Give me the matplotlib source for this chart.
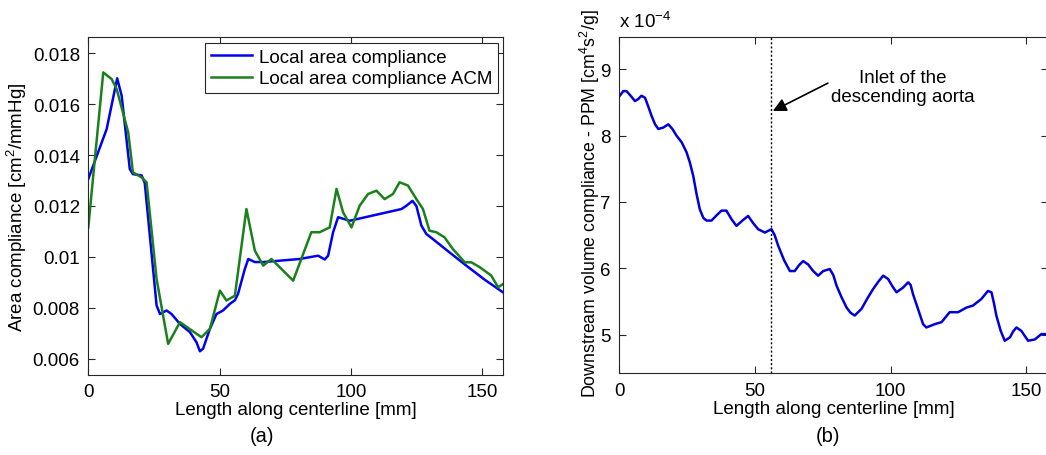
import matplotlib
matplotlib.use('Agg')
import matplotlib.pyplot as plt

plt.rcParams['font.family'] = ['Liberation Sans', 'DejaVu Sans']
plt.rcParams['mathtext.fontset'] = 'custom'
plt.rcParams['mathtext.rm'] = 'Liberation Sans'
plt.rcParams['font.size'] = 13.5

# (a) local area compliance along the centerline [mm, cm^2/mmHg]
x_lac = [0, 7, 11, 12.7, 15.8, 17, 20.3, 21.5, 26, 27.3, 29.8, 31.7, 34.9, 38.7,
         41.2, 42.5, 43.7, 46.3, 48.8, 51.3, 53.9, 55.8, 57, 59.6, 60.9, 63.4,
         66.6, 80.5, 87.5, 90, 91.3, 93.2, 95.1, 99.5, 119.2, 121, 123.4, 124.9,
         126.8, 128.7, 131.2, 137.5, 143.9, 151, 157.9]
y_lac = [0.01306, 0.01502, 0.01701, 0.01633, 0.01345, 0.01325, 0.0132, 0.0129,
         0.0081, 0.00776, 0.0079, 0.00776, 0.00737, 0.00705, 0.00665, 0.0063,
         0.0064, 0.00718, 0.00776, 0.0079, 0.00816, 0.0083, 0.00855, 0.00953,
         0.00992, 0.0098, 0.0098, 0.00992, 0.01005, 0.0099, 0.01005, 0.01097,
         0.01156, 0.01142, 0.01188, 0.012, 0.0122, 0.012, 0.01123, 0.0109,
         0.0107, 0.01018, 0.00966, 0.0091, 0.00861]

x_acm = [0, 1.9, 5.7, 8.9, 10.8, 15.2, 17, 20.3, 22.2, 26, 30.4, 34.9, 43.1,
         46.3, 50.1, 52.6, 55.8, 60.2, 63.4, 66.6, 69.7, 78, 84.9, 88.1, 91.9,
         94.5, 97, 100.2, 103.3, 106.5, 109.7, 112.8, 116, 118.5, 121.7, 124.9,
         127.4, 129.9, 132.5, 135.6, 138.8, 143.3, 145.8, 149, 153.4, 156, 157.9]
y_acm = [0.01116, 0.0132, 0.01724, 0.01698, 0.01659, 0.01489, 0.01332, 0.01312,
         0.01293, 0.00914, 0.00659, 0.00744, 0.00685, 0.00718, 0.00868, 0.00829,
         0.00848, 0.01188, 0.01025, 0.00966, 0.00992, 0.00907, 0.01097, 0.01097,
         0.01116, 0.01267, 0.01175, 0.01116, 0.01201, 0.01247, 0.0126, 0.01227,
         0.01247, 0.01293, 0.0128, 0.01227, 0.01188, 0.01103, 0.01097, 0.01077,
         0.01031, 0.00979, 0.00979, 0.0096, 0.00927, 0.00881, 0.00894]

a_yticks = [0.006, 0.008, 0.01, 0.012, 0.014, 0.016, 0.018]
a_yticklabels = ['0.006', '0.008', '0.01', '0.012', '0.014', '0.016', '0.018']
x_ticks = [0, 50, 100, 150]

# (b) downstream volume compliance, units of 1e-4 cm^4 s^2/g
x_ppm = [0.2, 1.5, 2.7, 4.2, 5.8, 7.0, 8.2, 9.5, 10.6, 11.9, 13.2, 14.4, 16.2,
         18.1, 19.6, 21.1, 23.0, 24.8, 26.0, 27.3, 28.5, 29.7, 31.0, 32.2, 34,
         35.9, 37.7, 39.5, 41.4, 43.2, 45.4, 47.5, 49.4, 51.2, 53.7, 56.1, 57.3,
         58.6, 60.8, 62.9, 64.7, 66.3, 67.8, 69.6, 71.5, 73.3, 75.2, 77.6, 78.9,
         80.1, 82.0, 83.8, 85.3, 86.8, 89.3, 91.5, 93.6, 95.5, 97.3, 99.1, 100.7,
         102.2, 104.6, 106.5, 107.4, 108.3, 110.2, 112, 113.2, 116.3, 118.8,
         121.8, 124.9, 128, 130.4, 133.5, 135.9, 137.2, 138.1, 139, 140.6, 142.1,
         144, 145.2, 146.4, 148.2, 150.7, 153.2, 155.6, 158]
y_ppm = [8.60, 8.67, 8.67, 8.60, 8.52, 8.55, 8.60, 8.57, 8.45, 8.30, 8.17, 8.10,
         8.12, 8.17, 8.10, 8.0, 7.90, 7.75, 7.60, 7.39, 7.12, 6.89, 6.76, 6.72,
         6.72, 6.80, 6.87, 6.87, 6.74, 6.64, 6.72, 6.79, 6.68, 6.59, 6.54, 6.59,
         6.50, 6.34, 6.12, 5.96, 5.96, 6.05, 6.11, 6.06, 5.96, 5.89, 5.96, 5.99,
         5.90, 5.74, 5.56, 5.41, 5.33, 5.29, 5.39, 5.55, 5.69, 5.80, 5.89, 5.84,
         5.73, 5.64, 5.71, 5.79, 5.75, 5.61, 5.38, 5.16, 5.11, 5.16, 5.19, 5.34,
         5.34, 5.41, 5.44, 5.54, 5.66, 5.64, 5.48, 5.29, 5.06, 4.91, 4.96, 5.05,
         5.11, 5.06, 4.91, 4.93, 5.01, 5.01]
b_yticks = [5, 6, 7, 8, 9]
inlet_x = 56.0

fig = plt.figure(figsize=(10.46, 4.56), dpi=100, facecolor='white')

def style_axes(ax):
    for s in ax.spines.values():
        s.set_color('#262626')
        s.set_linewidth(0.8)
    ax.tick_params(direction='in', length=5, width=0.8, color='#262626',
                   top=True, right=True, pad=6, labelsize=13.5)

# Panel (a)
ax0 = fig.add_axes([0.0844, 0.1761, 0.3968, 0.740])
ax0.plot(x_lac, y_lac, color=(0, 0, 0.95), linewidth=1.8, label='Local area compliance')
ax0.plot(x_acm, y_acm, color=(0.1, 0.5, 0.1), linewidth=1.8, label='Local area compliance ACM')
ax0.set_xlim(0, 158)
ax0.set_ylim(0.00538, 0.01862)
ax0.set_xticks(x_ticks)
ax0.set_yticks(a_yticks)
ax0.set_yticklabels(a_yticklabels)
ax0.set_xlabel('Length along centerline [mm]', labelpad=1)
ax0.set_ylabel('Area compliance [cm$^2$/mmHg]', labelpad=3)
style_axes(ax0)
leg = ax0.legend(loc='upper right', fancybox=False, framealpha=1, edgecolor='#262626',
                 handlelength=2.2, handletextpad=0.35, borderaxespad=0.3,
                 borderpad=0.3, labelspacing=0.25, fontsize=13.5)
leg.get_frame().set_linewidth(0.8)

# Panel (b)
ax1 = fig.add_axes([0.592, 0.1792, 0.4098, 0.7382])
ax1.plot(x_ppm, y_ppm, color=(0, 0, 0.85), linewidth=1.8)
ax1.axvline(inlet_x, color='black', linestyle=(0, (1.5, 1.5)), linewidth=1.0)
ax1.annotate('', xy=(inlet_x + 0.6, 8.37), xytext=(76.9, 8.79),
             arrowprops=dict(arrowstyle='-|>', color='black', lw=1.2,
                             mutation_scale=20, shrinkA=0, shrinkB=0))
ax1.text(104.6, 8.73, 'Inlet of the\ndescending aorta', ha='center', va='center',
         fontsize=13.5, linespacing=1.1)
ax1.set_xlim(0, 158)
ax1.set_ylim(4.42, 9.49)
ax1.set_xticks(x_ticks)
ax1.set_yticks(b_yticks)
ax1.set_ylabel('Downstream volume compliance - PPM [cm$^4$s$^2$/g]', fontsize=12.8)
ax1.yaxis.set_label_coords(-0.040, 0.508)
ax1.set_xlabel('Length along centerline [mm]', labelpad=1)
style_axes(ax1)
fig.text(0.592, 0.93, 'x 10$^{-4}$', fontsize=13.5, ha='left', va='bottom')

fig.text(262 / 1046, 1 - 437 / 456, '(a)', ha='center', va='center', fontsize=14.5)
fig.text(828 / 1046, 1 - 437 / 456, '(b)', ha='center', va='center', fontsize=14.5)

fig.savefig('out.png', dpi=100, facecolor='white')
